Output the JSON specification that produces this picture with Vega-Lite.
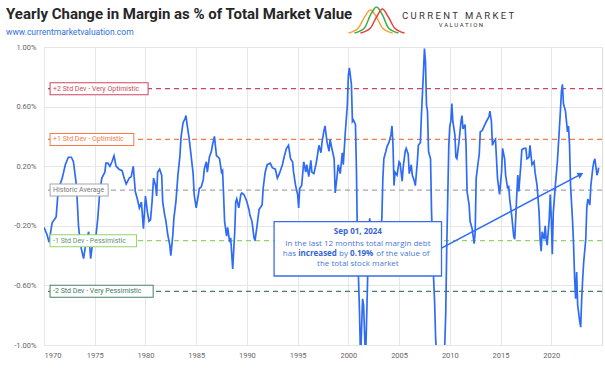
{
  "$schema": "https://vega.github.io/schema/vega-lite/v6.json",
  "width": 558,
  "height": 298,
  "autosize": {"type": "none"},
  "padding": {"left": 44, "top": 47, "right": 3, "bottom": 24},
  "background": "white",
  "title": {
    "text": "Yearly Change in Margin as % of Total Market Value",
    "subtitle": "www.currentmarketvaluation.com",
    "anchor": "start",
    "frame": "group",
    "dx": -38,
    "dy": 40,
    "offset": 8,
    "font": "Roboto",
    "fontSize": 15,
    "fontWeight": "bold",
    "color": "#262626",
    "subtitleFont": "Roboto",
    "subtitleFontSize": 8.5,
    "subtitleColor": "#2f6fe0",
    "subtitlePadding": 6
  },
  "config": {
    "view": {"stroke": "#dcdcdc"},
    "axis": {
      "grid": true,
      "gridColor": "#e6e6e6",
      "domain": false,
      "ticks": false,
      "labelFont": "Roboto",
      "labelFontSize": 7.5,
      "labelColor": "#666666"
    }
  },
  "datasets": {
    "series": [
      {"year": 1970.0, "v": -0.21}, {"year": 1970.3, "v": -0.26}, {"year": 1970.5, "v": -0.31}, {"year": 1970.8, "v": -0.18},
      {"year": 1971.2, "v": -0.14}, {"year": 1971.4, "v": 0.04}, {"year": 1971.8, "v": 0.12}, {"year": 1972.1, "v": 0.21},
      {"year": 1972.4, "v": 0.26}, {"year": 1972.7, "v": 0.26}, {"year": 1972.9, "v": 0.23}, {"year": 1973.2, "v": 0.07},
      {"year": 1973.4, "v": -0.2}, {"year": 1973.6, "v": -0.33}, {"year": 1973.9, "v": -0.42}, {"year": 1974.1, "v": -0.33},
      {"year": 1974.4, "v": -0.24}, {"year": 1974.6, "v": -0.42}, {"year": 1974.8, "v": -0.31}, {"year": 1975.1, "v": -0.28},
      {"year": 1975.3, "v": -0.15}, {"year": 1975.5, "v": 0.03}, {"year": 1975.7, "v": 0.12}, {"year": 1976.0, "v": 0.16},
      {"year": 1976.1, "v": 0.22}, {"year": 1976.3, "v": 0.22}, {"year": 1976.5, "v": 0.2}, {"year": 1976.7, "v": 0.23},
      {"year": 1976.9, "v": 0.27}, {"year": 1977.1, "v": 0.2}, {"year": 1977.4, "v": 0.18}, {"year": 1977.7, "v": 0.17},
      {"year": 1977.9, "v": 0.12}, {"year": 1978.1, "v": 0.08}, {"year": 1978.4, "v": 0.12}, {"year": 1978.6, "v": 0.13},
      {"year": 1978.8, "v": 0.2}, {"year": 1979.0, "v": 0.03}, {"year": 1979.2, "v": -0.02}, {"year": 1979.4, "v": -0.08},
      {"year": 1979.6, "v": -0.04}, {"year": 1979.8, "v": -0.22}, {"year": 1980.0, "v": 0.0}, {"year": 1980.2, "v": -0.11},
      {"year": 1980.35, "v": -0.17}, {"year": 1980.5, "v": -0.16}, {"year": 1980.65, "v": -0.04}, {"year": 1980.8, "v": 0.12},
      {"year": 1981.0, "v": 0.07}, {"year": 1981.1, "v": 0.0}, {"year": 1981.2, "v": 0.16}, {"year": 1981.4, "v": 0.18},
      {"year": 1981.6, "v": 0.14}, {"year": 1981.7, "v": -0.04}, {"year": 1981.9, "v": -0.13}, {"year": 1982.0, "v": -0.16},
      {"year": 1982.2, "v": -0.26}, {"year": 1982.4, "v": -0.33}, {"year": 1982.5, "v": -0.4}, {"year": 1982.7, "v": -0.26},
      {"year": 1982.8, "v": -0.15}, {"year": 1983.0, "v": -0.04}, {"year": 1983.2, "v": 0.14}, {"year": 1983.4, "v": 0.27},
      {"year": 1983.5, "v": 0.39}, {"year": 1983.7, "v": 0.49}, {"year": 1983.9, "v": 0.52}, {"year": 1984.0, "v": 0.54},
      {"year": 1984.1, "v": 0.48}, {"year": 1984.3, "v": 0.39}, {"year": 1984.5, "v": 0.27}, {"year": 1984.7, "v": 0.15},
      {"year": 1984.8, "v": 0.01}, {"year": 1985.0, "v": -0.08}, {"year": 1985.2, "v": 0.0}, {"year": 1985.3, "v": 0.05},
      {"year": 1985.5, "v": 0.06}, {"year": 1985.7, "v": 0.11}, {"year": 1985.8, "v": 0.18}, {"year": 1986.0, "v": 0.23},
      {"year": 1986.1, "v": 0.16}, {"year": 1986.3, "v": 0.26}, {"year": 1986.5, "v": 0.3}, {"year": 1986.6, "v": 0.34},
      {"year": 1986.8, "v": 0.4}, {"year": 1987.0, "v": 0.27}, {"year": 1987.2, "v": 0.26}, {"year": 1987.3, "v": 0.25},
      {"year": 1987.5, "v": 0.16}, {"year": 1987.6, "v": 0.17}, {"year": 1987.7, "v": 0.01}, {"year": 1987.8, "v": -0.17},
      {"year": 1988.0, "v": -0.27}, {"year": 1988.1, "v": -0.21}, {"year": 1988.3, "v": -0.31}, {"year": 1988.4, "v": -0.28},
      {"year": 1988.6, "v": -0.49}, {"year": 1988.8, "v": -0.24}, {"year": 1988.9, "v": -0.04}, {"year": 1989.0, "v": -0.02},
      {"year": 1989.2, "v": -0.08}, {"year": 1989.4, "v": 0.01}, {"year": 1989.5, "v": 0.02}, {"year": 1989.7, "v": 0.01},
      {"year": 1989.9, "v": -0.02}, {"year": 1990.0, "v": -0.04}, {"year": 1990.2, "v": -0.09}, {"year": 1990.3, "v": -0.13},
      {"year": 1990.5, "v": -0.17}, {"year": 1990.7, "v": -0.28}, {"year": 1990.8, "v": -0.3}, {"year": 1991.0, "v": -0.2},
      {"year": 1991.2, "v": -0.09}, {"year": 1991.3, "v": -0.08}, {"year": 1991.5, "v": -0.06}, {"year": 1991.6, "v": 0.05},
      {"year": 1991.8, "v": 0.16}, {"year": 1992.0, "v": 0.21}, {"year": 1992.3, "v": 0.22}, {"year": 1992.5, "v": 0.19},
      {"year": 1992.8, "v": 0.18}, {"year": 1993.0, "v": 0.12}, {"year": 1993.2, "v": 0.15}, {"year": 1993.5, "v": 0.21},
      {"year": 1993.7, "v": 0.27}, {"year": 1993.9, "v": 0.32}, {"year": 1994.1, "v": 0.34}, {"year": 1994.3, "v": 0.25},
      {"year": 1994.5, "v": 0.23}, {"year": 1994.6, "v": 0.16}, {"year": 1994.8, "v": 0.07}, {"year": 1995.0, "v": 0.01},
      {"year": 1995.1, "v": -0.08}, {"year": 1995.2, "v": 0.05}, {"year": 1995.4, "v": 0.07}, {"year": 1995.6, "v": 0.23},
      {"year": 1995.8, "v": 0.16}, {"year": 1995.9, "v": 0.21}, {"year": 1996.1, "v": 0.13}, {"year": 1996.3, "v": 0.24},
      {"year": 1996.4, "v": 0.16}, {"year": 1996.6, "v": 0.15}, {"year": 1996.8, "v": 0.21}, {"year": 1996.9, "v": 0.25},
      {"year": 1997.1, "v": 0.34}, {"year": 1997.3, "v": 0.29}, {"year": 1997.4, "v": 0.36}, {"year": 1997.6, "v": 0.44},
      {"year": 1997.7, "v": 0.47}, {"year": 1997.9, "v": 0.36}, {"year": 1998.1, "v": 0.3}, {"year": 1998.2, "v": 0.38},
      {"year": 1998.4, "v": 0.31}, {"year": 1998.6, "v": 0.25}, {"year": 1998.7, "v": 0.02}, {"year": 1998.9, "v": 0.14},
      {"year": 1999.0, "v": 0.21}, {"year": 1999.2, "v": 0.15}, {"year": 1999.4, "v": 0.29}, {"year": 1999.5, "v": 0.21},
      {"year": 1999.7, "v": 0.43}, {"year": 1999.9, "v": 0.61}, {"year": 2000.0, "v": 0.81}, {"year": 2000.1, "v": 0.86},
      {"year": 2000.3, "v": 0.75}, {"year": 2000.4, "v": 0.5}, {"year": 2000.5, "v": 0.51}, {"year": 2000.7, "v": 0.48},
      {"year": 2000.8, "v": 0.16}, {"year": 2000.9, "v": -0.33}, {"year": 2001.1, "v": -0.78}, {"year": 2001.2, "v": -1.1},
      {"year": 2001.4, "v": -0.69}, {"year": 2001.5, "v": -0.73}, {"year": 2001.6, "v": -0.93}, {"year": 2001.7, "v": -1.1},
      {"year": 2001.9, "v": -0.55}, {"year": 2002.0, "v": -0.33}, {"year": 2002.1, "v": -0.15}, {"year": 2002.3, "v": -0.25},
      {"year": 2002.6, "v": -0.4}, {"year": 2002.9, "v": -0.42}, {"year": 2003.1, "v": -0.3}, {"year": 2003.3, "v": -0.15},
      {"year": 2003.4, "v": 0.12}, {"year": 2003.5, "v": 0.25}, {"year": 2003.7, "v": 0.3}, {"year": 2003.8, "v": 0.33},
      {"year": 2004.0, "v": 0.36}, {"year": 2004.2, "v": 0.41}, {"year": 2004.3, "v": 0.47}, {"year": 2004.4, "v": 0.34},
      {"year": 2004.5, "v": 0.07}, {"year": 2004.6, "v": 0.16}, {"year": 2004.8, "v": 0.14}, {"year": 2005.0, "v": 0.23},
      {"year": 2005.1, "v": 0.22}, {"year": 2005.3, "v": 0.1}, {"year": 2005.4, "v": 0.19}, {"year": 2005.6, "v": 0.3},
      {"year": 2005.7, "v": 0.32}, {"year": 2005.9, "v": 0.28}, {"year": 2006.0, "v": 0.15}, {"year": 2006.2, "v": 0.21},
      {"year": 2006.3, "v": 0.14}, {"year": 2006.5, "v": 0.1}, {"year": 2006.6, "v": 0.07}, {"year": 2006.8, "v": 0.23},
      {"year": 2006.9, "v": 0.34}, {"year": 2007.1, "v": 0.36}, {"year": 2007.2, "v": 0.54}, {"year": 2007.4, "v": 0.83},
      {"year": 2007.5, "v": 0.99}, {"year": 2007.6, "v": 0.9}, {"year": 2007.7, "v": 0.61}, {"year": 2007.8, "v": 0.57},
      {"year": 2007.9, "v": 0.3}, {"year": 2008.1, "v": 0.25}, {"year": 2008.2, "v": -0.11}, {"year": 2008.4, "v": -0.55},
      {"year": 2008.5, "v": -0.71}, {"year": 2008.6, "v": -0.95}, {"year": 2008.8, "v": -1.2}, {"year": 2009.0, "v": -1.2},
      {"year": 2009.3, "v": -1.1}, {"year": 2009.5, "v": -1.0}, {"year": 2009.6, "v": -0.78}, {"year": 2009.7, "v": -0.33},
      {"year": 2009.9, "v": 0.34}, {"year": 2010.0, "v": 0.47}, {"year": 2010.1, "v": 0.5}, {"year": 2010.2, "v": 0.62},
      {"year": 2010.3, "v": 0.5}, {"year": 2010.5, "v": 0.41}, {"year": 2010.6, "v": 0.26}, {"year": 2010.7, "v": 0.25},
      {"year": 2010.9, "v": 0.36}, {"year": 2011.1, "v": 0.5}, {"year": 2011.2, "v": 0.54}, {"year": 2011.3, "v": 0.45},
      {"year": 2011.5, "v": 0.48}, {"year": 2011.6, "v": 0.34}, {"year": 2011.7, "v": 0.03}, {"year": 2011.9, "v": -0.06},
      {"year": 2012.0, "v": -0.17}, {"year": 2012.2, "v": -0.22}, {"year": 2012.4, "v": -0.32}, {"year": 2012.5, "v": -0.24},
      {"year": 2012.6, "v": 0.12}, {"year": 2012.8, "v": 0.23}, {"year": 2012.9, "v": 0.28}, {"year": 2013.0, "v": 0.43},
      {"year": 2013.2, "v": 0.44}, {"year": 2013.4, "v": 0.47}, {"year": 2013.6, "v": 0.5}, {"year": 2013.85, "v": 0.53},
      {"year": 2013.95, "v": 0.57}, {"year": 2014.1, "v": 0.5}, {"year": 2014.2, "v": 0.34}, {"year": 2014.3, "v": 0.36},
      {"year": 2014.5, "v": 0.38}, {"year": 2014.6, "v": 0.25}, {"year": 2014.7, "v": 0.12}, {"year": 2014.9, "v": 0.01},
      {"year": 2015.1, "v": 0.16}, {"year": 2015.2, "v": 0.32}, {"year": 2015.4, "v": 0.25}, {"year": 2015.5, "v": 0.14},
      {"year": 2015.7, "v": 0.05}, {"year": 2015.8, "v": 0.07}, {"year": 2015.9, "v": -0.02}, {"year": 2016.1, "v": -0.13},
      {"year": 2016.2, "v": -0.2}, {"year": 2016.3, "v": -0.27}, {"year": 2016.4, "v": -0.29}, {"year": 2016.6, "v": 0.01},
      {"year": 2016.7, "v": 0.14}, {"year": 2016.8, "v": 0.03}, {"year": 2017.0, "v": 0.21}, {"year": 2017.1, "v": 0.31},
      {"year": 2017.3, "v": 0.32}, {"year": 2017.5, "v": 0.32}, {"year": 2017.6, "v": 0.25}, {"year": 2017.8, "v": 0.26},
      {"year": 2017.9, "v": 0.34}, {"year": 2018.1, "v": 0.21}, {"year": 2018.3, "v": 0.23}, {"year": 2018.4, "v": 0.16},
      {"year": 2018.6, "v": 0.07}, {"year": 2018.8, "v": -0.11}, {"year": 2018.9, "v": -0.29}, {"year": 2019.0, "v": -0.37},
      {"year": 2019.1, "v": -0.24}, {"year": 2019.3, "v": -0.29}, {"year": 2019.4, "v": -0.2}, {"year": 2019.5, "v": -0.29},
      {"year": 2019.6, "v": -0.33}, {"year": 2019.8, "v": -0.15}, {"year": 2019.9, "v": 0.01}, {"year": 2020.0, "v": -0.15},
      {"year": 2020.1, "v": -0.39}, {"year": 2020.2, "v": -0.11}, {"year": 2020.4, "v": 0.07}, {"year": 2020.6, "v": 0.23},
      {"year": 2020.7, "v": 0.34}, {"year": 2020.9, "v": 0.57}, {"year": 2021.0, "v": 0.7}, {"year": 2021.1, "v": 0.75},
      {"year": 2021.2, "v": 0.62}, {"year": 2021.4, "v": 0.57}, {"year": 2021.6, "v": 0.43}, {"year": 2021.7, "v": 0.47},
      {"year": 2021.8, "v": 0.34}, {"year": 2021.9, "v": 0.07}, {"year": 2022.1, "v": -0.17}, {"year": 2022.2, "v": -0.33},
      {"year": 2022.3, "v": -0.55}, {"year": 2022.4, "v": -0.69}, {"year": 2022.5, "v": -0.51}, {"year": 2022.6, "v": -0.73},
      {"year": 2022.8, "v": -0.84}, {"year": 2022.9, "v": -0.88}, {"year": 2023.0, "v": -0.69}, {"year": 2023.1, "v": -0.55},
      {"year": 2023.2, "v": -0.44}, {"year": 2023.4, "v": -0.29}, {"year": 2023.5, "v": -0.08}, {"year": 2023.6, "v": -0.02},
      {"year": 2023.8, "v": -0.06}, {"year": 2023.9, "v": 0.07}, {"year": 2024.1, "v": 0.19}, {"year": 2024.2, "v": 0.23},
      {"year": 2024.3, "v": 0.25}, {"year": 2024.5, "v": 0.14}, {"year": 2024.6, "v": 0.16}, {"year": 2024.67, "v": 0.19}
    ],
    "levels": [
      {"name": "+2 Std Dev - Very Optimistic", "v": 0.72, "start": 1971.19, "end": 1979.67},
      {"name": "+1 Std Dev - Optimistic", "v": 0.38, "start": 1971.19, "end": 1978.26},
      {"name": "Historic Average", "v": 0.04, "start": 1971.19, "end": 1975.73},
      {"name": "-1 Std Dev - Pessimistic", "v": -0.3, "start": 1971.19, "end": 1978.53},
      {"name": "-2 Std Dev - Very Pessimistic", "v": -0.64, "start": 1971.19, "end": 1980.17}
    ],
    "annCenter": [
      {"text": "Sep 01, 2024", "year": 2000.94, "v": -0.242, "bold": true},
      {"text": "In the last 12 months total margin debt", "year": 2000.94, "v": -0.32, "bold": false},
      {"text": "the total stock market", "year": 2000.94, "v": -0.456, "bold": false}
    ],
    "annLeft": [
      {"text": "has", "year": 1993.54, "v": -0.386, "bold": false},
      {"text": "increased", "year": 1995.05, "v": -0.386, "bold": true},
      {"text": "by", "year": 1999.08, "v": -0.386, "bold": false},
      {"text": "0.19%", "year": 2000.17, "v": -0.386, "bold": true},
      {"text": "of the value of", "year": 2002.74, "v": -0.386, "bold": false}
    ],
    "logo": [
      {"c": "orange", "year": 2000.01, "v": 1.094}, {"c": "orange", "year": 2000.99, "v": 1.128}, {"c": "orange", "year": 2001.59, "v": 1.201},
      {"c": "orange", "year": 2002.18, "v": 1.248}, {"c": "orange", "year": 2002.77, "v": 1.201}, {"c": "orange", "year": 2003.36, "v": 1.128},
      {"c": "orange", "year": 2004.35, "v": 1.094},
      {"c": "green", "year": 2000.6, "v": 1.094}, {"c": "green", "year": 2001.59, "v": 1.128}, {"c": "green", "year": 2002.18, "v": 1.215},
      {"c": "green", "year": 2002.77, "v": 1.268}, {"c": "green", "year": 2003.36, "v": 1.215}, {"c": "green", "year": 2003.95, "v": 1.128},
      {"c": "green", "year": 2004.94, "v": 1.094},
      {"c": "red", "year": 2001.19, "v": 1.094}, {"c": "red", "year": 2002.18, "v": 1.128}, {"c": "red", "year": 2002.77, "v": 1.201},
      {"c": "red", "year": 2003.36, "v": 1.255}, {"c": "red", "year": 2003.95, "v": 1.201}, {"c": "red", "year": 2004.55, "v": 1.128},
      {"c": "red", "year": 2005.53, "v": 1.094}
    ],
    "logoText": [
      {"text": "C\u00a0U\u00a0R\u00a0R\u00a0E\u00a0N\u00a0T\u00a0\u00a0\u00a0M\u00a0A\u00a0R\u00a0K\u00a0E\u00a0T", "year": 2010.81, "v": 1.208, "kind": "big"},
      {"text": "V\u00a0A\u00a0L\u00a0U\u00a0A\u00a0T\u00a0I\u00a0O\u00a0N", "year": 2011.1, "v": 1.148, "kind": "small"}
    ]
  },
  "layer": [
    {
      "data": {"name": "levels"},
      "mark": {"type": "rule", "strokeDash": [5, 4], "strokeWidth": 1.3},
      "encoding": {
        "y": {"field": "v", "type": "quantitative", "title": null},
        "color": {
          "field": "name", "type": "nominal", "legend": null,
          "scale": {
            "domain": ["+2 Std Dev - Very Optimistic", "+1 Std Dev - Optimistic", "Historic Average", "-1 Std Dev - Pessimistic", "-2 Std Dev - Very Pessimistic"],
            "range": ["#cc4460", "#f27c4a", "#a6a6a6", "#92d46c", "#457f66"]
          }
        }
      }
    },
    {
      "data": {"name": "series"},
      "mark": {"type": "line", "color": "#2f6cf5", "strokeWidth": 1.7, "clip": true},
      "encoding": {
        "x": {
          "field": "year", "type": "quantitative", "title": null,
          "scale": {"domain": [1970, 2025], "nice": false, "zero": false},
          "axis": {"values": [1970, 1975, 1980, 1985, 1990, 1995, 2000, 2005, 2010, 2015, 2020], "format": "d", "labelPadding": 6}
        },
        "y": {
          "field": "v", "type": "quantitative", "title": null,
          "scale": {"domain": [-1, 1], "nice": false},
          "axis": {"values": [-1, -0.8, -0.6, -0.4, -0.2, 0, 0.2, 0.4, 0.6, 0.8, 1], "labelExpr": "replace(format(datum.value, '.2f'), '\u2212', '-') + '%'", "labelPadding": 8}
        }
      }
    },
    {
      "data": {"name": "levels"},
      "mark": {"type": "rule", "strokeWidth": 13, "strokeCap": "square"},
      "encoding": {
        "x": {"field": "start", "type": "quantitative", "title": null},
        "x2": {"field": "end"},
        "y": {"field": "v", "type": "quantitative", "title": null},
        "color": {"field": "name", "type": "nominal", "legend": null}
      }
    },
    {
      "data": {"name": "levels"},
      "mark": {"type": "rule", "strokeWidth": 11, "strokeCap": "square", "color": "white"},
      "encoding": {
        "x": {"field": "start", "type": "quantitative", "title": null},
        "x2": {"field": "end"},
        "y": {"field": "v", "type": "quantitative", "title": null}
      }
    },
    {
      "data": {"name": "levels"},
      "mark": {"type": "text", "align": "left", "baseline": "middle", "dx": -3, "font": "Roboto", "fontSize": 7},
      "encoding": {
        "x": {"field": "start", "type": "quantitative", "title": null},
        "y": {"field": "v", "type": "quantitative", "title": null},
        "text": {"field": "name"},
        "fill": {
          "field": "name", "type": "nominal", "legend": null,
          "scale": {
            "domain": ["+2 Std Dev - Very Optimistic", "+1 Std Dev - Optimistic", "Historic Average", "-1 Std Dev - Pessimistic", "-2 Std Dev - Very Pessimistic"],
            "range": ["#cf4b5f", "#f27c4a", "#7a7a7a", "#5e9670", "#3f7a60"]
          }
        }
      }
    },
    {
      "data": {"values": [{}]},
      "mark": {"type": "rect", "fill": "white", "stroke": "#3a6fe3", "strokeWidth": 1.3},
      "encoding": {
        "x": {"datum": 1992.68, "type": "quantitative"},
        "x2": {"datum": 2009.18},
        "y": {"datum": -0.172, "type": "quantitative"},
        "y2": {"datum": -0.537}
      }
    },
    {
      "data": {"name": "annCenter"},
      "transform": [{"filter": "datum.bold"}],
      "mark": {"type": "text", "align": "center", "baseline": "middle", "font": "Open Sans", "fontSize": 8, "fontWeight": "bold", "color": "#3566d6"},
      "encoding": {
        "x": {"field": "year", "type": "quantitative", "title": null},
        "y": {"field": "v", "type": "quantitative", "title": null},
        "text": {"field": "text"}
      }
    },
    {
      "data": {"name": "annCenter"},
      "transform": [{"filter": "!datum.bold"}],
      "mark": {"type": "text", "align": "center", "baseline": "middle", "font": "Open Sans", "fontSize": 8, "color": "#4a78db"},
      "encoding": {
        "x": {"field": "year", "type": "quantitative", "title": null},
        "y": {"field": "v", "type": "quantitative", "title": null},
        "text": {"field": "text"}
      }
    },
    {
      "data": {"name": "annLeft"},
      "transform": [{"filter": "datum.bold"}],
      "mark": {"type": "text", "align": "left", "baseline": "middle", "font": "Open Sans", "fontSize": 8, "fontWeight": "bold", "color": "#3566d6"},
      "encoding": {
        "x": {"field": "year", "type": "quantitative", "title": null},
        "y": {"field": "v", "type": "quantitative", "title": null},
        "text": {"field": "text"}
      }
    },
    {
      "data": {"name": "annLeft"},
      "transform": [{"filter": "!datum.bold"}],
      "mark": {"type": "text", "align": "left", "baseline": "middle", "font": "Open Sans", "fontSize": 8, "color": "#4a78db"},
      "encoding": {
        "x": {"field": "year", "type": "quantitative", "title": null},
        "y": {"field": "v", "type": "quantitative", "title": null},
        "text": {"field": "text"}
      }
    },
    {
      "data": {"values": [{}]},
      "mark": {"type": "rule", "color": "#2f6cf5", "strokeWidth": 1.6},
      "encoding": {
        "x": {"datum": 2009.18, "type": "quantitative"},
        "x2": {"datum": 2022.9},
        "y": {"datum": -0.35, "type": "quantitative"},
        "y2": {"datum": 0.145}
      }
    },
    {
      "data": {"values": [{}]},
      "mark": {"type": "point", "shape": "triangle-up", "filled": true, "opacity": 1, "color": "#2f6cf5", "size": 45, "angle": 62},
      "encoding": {
        "x": {"datum": 2022.9, "type": "quantitative"},
        "y": {"datum": 0.145, "type": "quantitative"}
      }
    },
    {
      "data": {"name": "logo"},
      "mark": {"type": "line", "interpolate": "monotone", "strokeWidth": 1.5, "clip": false},
      "encoding": {
        "x": {"field": "year", "type": "quantitative", "title": null},
        "y": {"field": "v", "type": "quantitative", "title": null},
        "stroke": {
          "field": "c", "type": "nominal", "legend": null,
          "scale": {"domain": ["orange", "green", "red"], "range": ["#f5a23a", "#3fae49", "#e8403a"]}
        }
      }
    },
    {
      "data": {"name": "logoText"},
      "transform": [{"filter": "datum.kind == 'big'"}],
      "mark": {"type": "text", "align": "center", "baseline": "middle", "font": "Roboto", "fontSize": 9.5, "color": "#333333"},
      "encoding": {
        "x": {"field": "year", "type": "quantitative", "title": null},
        "y": {"field": "v", "type": "quantitative", "title": null},
        "text": {"field": "text"}
      }
    },
    {
      "data": {"name": "logoText"},
      "transform": [{"filter": "datum.kind == 'small'"}],
      "mark": {"type": "text", "align": "center", "baseline": "middle", "font": "Roboto", "fontSize": 6, "color": "#333333"},
      "encoding": {
        "x": {"field": "year", "type": "quantitative", "title": null},
        "y": {"field": "v", "type": "quantitative", "title": null},
        "text": {"field": "text"}
      }
    }
  ]
}
